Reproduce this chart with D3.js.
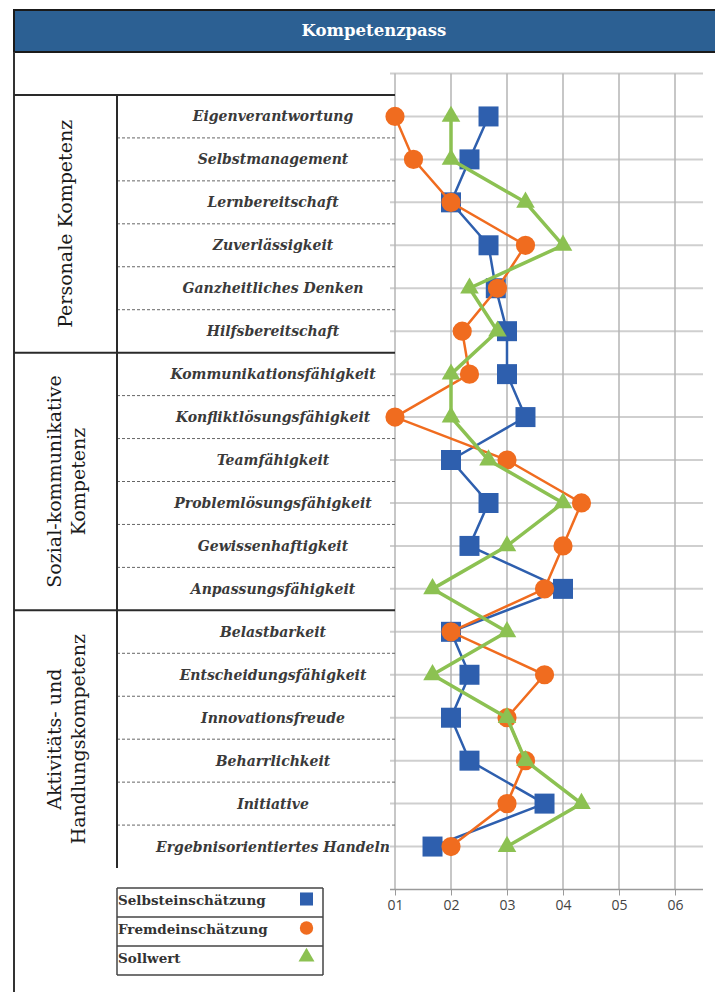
<!DOCTYPE html>
<html><head><meta charset="utf-8">
<script src="https://cdn.jsdelivr.net/npm/d3@7"></script>
<style>body{margin:0;background:#fff}svg{display:block}</style>
</head><body>
<script>
const title = "Kompetenzpass";
const categories = ["Eigenverantwortung","Selbstmanagement","Lernbereitschaft","Zuverlässigkeit","Ganzheitliches Denken","Hilfsbereitschaft","Kommunikationsfähigkeit","Konfliktlösungsfähigkeit","Teamfähigkeit","Problemlösungsfähigkeit","Gewissenhaftigkeit","Anpassungsfähigkeit","Belastbarkeit","Entscheidungsfähigkeit","Innovationsfreude","Beharrlichkeit","Initiative","Ergebnisorientiertes Handeln"];
const groupNames = [["Personale Kompetenz"],["Sozial-kommunikative","Kompetenz"],["Aktivitäts- und","Handlungskompetenz"]];
const groupSizes = [6,6,6];
const seriesNames = ["Selbsteinschätzung","Fremdeinschätzung","Sollwert"];
const selbst = [2.67,2.33,2.0,2.67,2.8,3.0,3.0,3.33,2.0,2.67,2.33,4.0,2.0,2.33,2.0,2.33,3.67,1.67];
const fremd  = [1.0,1.33,2.0,3.33,2.83,2.2,2.33,1.0,3.0,4.33,4.0,3.67,2.0,3.67,3.0,3.33,3.0,2.0];
const soll   = [2.0,2.0,3.33,4.0,2.33,2.83,2.0,2.0,2.67,4.0,3.0,1.67,3.0,1.67,3.0,3.33,4.33,3.0];
const xTicks = [1,2,3,4,5,6];
const xTickLabels = ["01","02","03","04","05","06"];

const W = 715, H = 992;
const svg = d3.select("body").append("svg").attr("width", W).attr("height", H);

const x = d3.scaleLinear().domain([1, 6.5]).range([395, 703]);
const y = d3.scaleLinear().domain([-1, categories.length]).range([73.5, 889.5]);

const blue = "#2e5fae", orange = "#f06c1f", green = "#8cc152";
const colors = [blue, orange, green];
const series = [selbst, fremd, soll];
const symbols = [d3.symbolSquare, d3.symbolCircle, d3.symbolTriangle];

// header
svg.append("rect").attr("x", 14).attr("y", 10).attr("width", W - 14 + 5).attr("height", 42)
  .attr("fill", "#2c6093").attr("stroke", "#1a1a1a").attr("stroke-width", 2);
svg.append("text").attr("x", 374).attr("y", 36).attr("text-anchor", "middle")
  .attr("fill", "#fff").attr("font-family", "DejaVu Serif").attr("font-weight", "bold")
  .attr("font-size", 16.5).text(title);

// outer left border
svg.append("line").attr("x1", 14).attr("x2", 14).attr("y1", 52).attr("y2", H)
  .attr("stroke", "#333").attr("stroke-width", 2);

// grid
const grid = svg.append("g");
d3.range(-1, categories.length).forEach(i => {
  grid.append("line").attr("x1", 390).attr("x2", 703).attr("y1", y(i)).attr("y2", y(i))
    .attr("stroke", "#cfcfcf").attr("stroke-width", 2);
});
xTicks.forEach(t => {
  grid.append("line").attr("x1", x(t)).attr("x2", x(t)).attr("y1", y(-1)).attr("y2", y(categories.length))
    .attr("stroke", "#b5b5b5").attr("stroke-width", 1.5);
});

// x axis
const xAxis = d3.axisBottom(x).tickValues(xTicks).tickSize(6).tickPadding(5)
  .tickFormat((d, i) => xTickLabels[i]);
const ax = svg.append("g").attr("transform", `translate(0,${y(categories.length)})`).call(xAxis);
ax.select(".domain").attr("d", `M390,0H703`).attr("stroke", "#9a9a9a").attr("stroke-width", 1.5);
ax.selectAll(".tick line").attr("stroke", "#9a9a9a");
ax.selectAll(".tick text").attr("font-family", "Open Sans").attr("font-size", 14).attr("fill", "#444");

// table
const table = svg.append("g");
let start = 0;
groupSizes.forEach((n, g) => {
  const top = y(start - 0.5), bot = y(start + n - 0.5);
  table.append("line").attr("x1", 14).attr("x2", 395).attr("y1", top).attr("y2", top)
    .attr("stroke", "#2a2a2a").attr("stroke-width", 2);
  for (let k = 1; k < n; k++) {
    const yy = y(start + k - 0.5);
    table.append("line").attr("x1", 117).attr("x2", 395).attr("y1", yy).attr("y2", yy)
      .attr("stroke", "#666").attr("stroke-width", 1).attr("stroke-dasharray", "3,2");
  }
  const cy = (top + bot) / 2;
  const lines = groupNames[g];
  const t = table.append("text").attr("transform", `translate(${lines.length === 1 ? 72 : 61},${cy}) rotate(-90)`)
    .attr("text-anchor", "middle").attr("font-family", "DejaVu Serif").attr("font-size", 19).attr("fill", "#1a1a1a");
  lines.forEach((l, j) => t.append("tspan").attr("x", 0).attr("dy", j === 0 ? 0 : 24).text(l));
  start += n;
});
table.append("line").attr("x1", 117).attr("x2", 117).attr("y1", y(-0.5)).attr("y2", y(categories.length - 0.5))
  .attr("stroke", "#2a2a2a").attr("stroke-width", 2);
categories.forEach((c, i) => {
  table.append("text").attr("x", 273).attr("y", y(i) + 5).attr("text-anchor", "middle")
    .attr("font-family", "DejaVu Serif").attr("font-style", "italic").attr("font-weight", "bold")
    .attr("font-size", 14).attr("fill", "#3a3a3a").text(c);
});

// series
const line = d3.line().x(d => x(d.v)).y(d => y(d.i));
const sizes = [[400], [290], [150]];
series.forEach((s, k) => {
  const data = s.map((v, i) => ({v, i}));
  svg.append("path").datum(data).attr("d", line).attr("fill", "none")
    .attr("stroke", colors[k]).attr("stroke-width", k === 2 ? 3.5 : 2.5);
  svg.append("g").selectAll("path").data(data).join("path")
    .attr("transform", d => `translate(${x(d.v)},${y(d.i)})`)
    .attr("d", d3.symbol().type(symbols[k]).size(sizes[k][0]))
    .attr("fill", colors[k]);
});

// legend
const lg = svg.append("g");
const lx0 = 117, lx1 = 323, ly0 = 888, lh = 29;
for (let r = 0; r <= 3; r++) {
  lg.append("line").attr("x1", lx0).attr("x2", lx1).attr("y1", ly0 + r * lh).attr("y2", ly0 + r * lh)
    .attr("stroke", "#444").attr("stroke-width", 1.5);
}
[lx0, lx1].forEach(xx => lg.append("line").attr("x1", xx).attr("x2", xx).attr("y1", ly0).attr("y2", ly0 + 3 * lh)
  .attr("stroke", "#444").attr("stroke-width", 1.5));
const legSizes = [170, 140, 110];
seriesNames.forEach((nm, k) => {
  lg.append("text").attr("x", lx0 + 1).attr("y", ly0 + k * lh + 17)
    .attr("font-family", "DejaVu Serif").attr("font-weight", "bold").attr("font-size", 13.5)
    .attr("fill", "#333").text(nm);
  lg.append("path").attr("transform", `translate(306.5,${ly0 + k * lh + 11})`)
    .attr("d", d3.symbol().type(symbols[k]).size(legSizes[k])).attr("fill", colors[k]);
});
</script>
</body></html>
